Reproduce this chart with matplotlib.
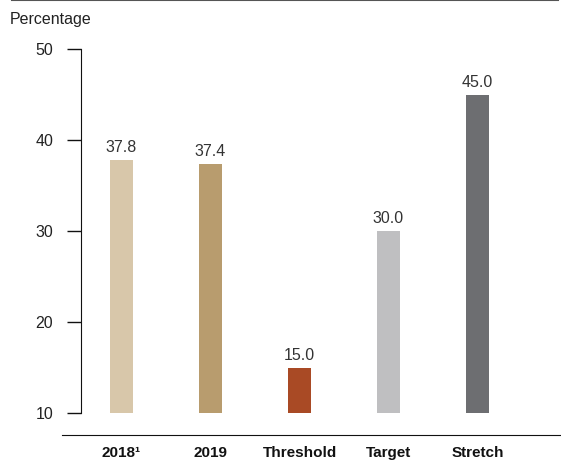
import matplotlib
matplotlib.use("Agg")
import matplotlib.pyplot as plt
from matplotlib.lines import Line2D

plt.rcParams['font.family'] = ['Liberation Sans', 'DejaVu Sans']

categories = ['2018\u00b9', '2019', 'Threshold', 'Target', 'Stretch']
values = [37.8, 37.4, 15.0, 30.0, 45.0]
bar_colors = ['#d8c7aa', '#b89c6e', '#a94a25', '#bfbfc1', '#6d6e71']
y_ticks = [10, 20, 30, 40, 50]
base = 10

fig = plt.figure(figsize=(5.61, 4.61), dpi=100)
ax = fig.add_axes([0.1105, 0.0564, 0.8895, 0.8373])

x = list(range(len(categories)))
heights = [v - base for v in values]
bars = ax.bar(x, heights, bottom=base, width=0.258, color=bar_colors)

for xi, v in zip(x, values):
    ax.annotate(f'{v:.1f}', xy=(xi, v), xytext=(0, 3.5), textcoords='offset points',
                ha='center', va='bottom', fontsize=11.5, color='#333333')

ax.set_xlim(-0.6685, 4.938)
ax.set_ylim(7.6, 50)
ax.set_yticks(y_ticks)
ax.set_xticks(x)
ax.set_xticklabels(categories, fontweight='bold', fontsize=11, color='#111111')
ax.tick_params(axis='x', length=0, pad=8)
ax.tick_params(axis='y', length=10, width=1, pad=10, labelsize=11.5,
               labelcolor='#222222', color='#111111')

for side in ['top', 'right']:
    ax.spines[side].set_visible(False)
ax.spines['left'].set_position(('axes', 0.038))
ax.spines['left'].set_bounds(10, 50)
ax.spines['left'].set_color('#111111')
ax.spines['bottom'].set_color('#111111')

ax.text(-0.105, 1.057, 'Percentage', transform=ax.transAxes, fontsize=11.5,
        color='#222222', ha='left', va='bottom')

# rule along the top edge
fig.add_artist(Line2D([12 / 561, 558 / 561], [0.999, 0.999], color='#555555',
                      linewidth=1.5, transform=fig.transFigure))

fig.savefig('out.png', dpi=100)
